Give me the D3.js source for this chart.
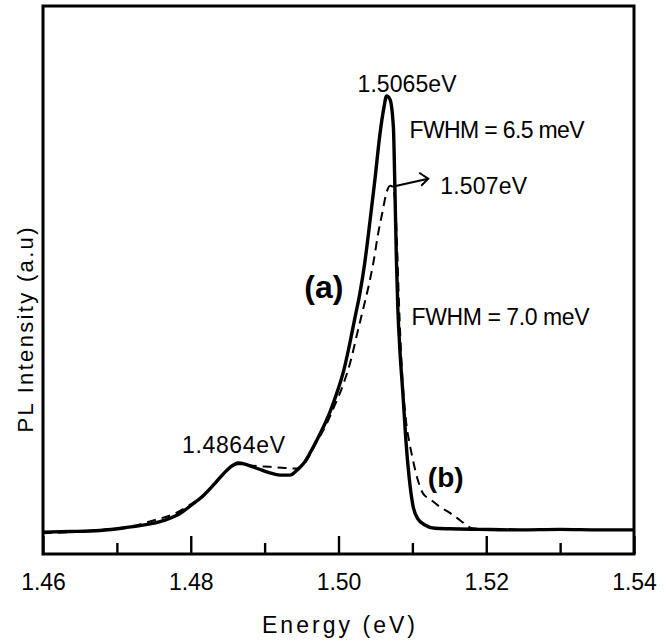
<!DOCTYPE html>
<html>
<head>
<meta charset="utf-8">
<script src="https://cdn.jsdelivr.net/npm/d3@7"></script>
<style>
  html, body { margin: 0; padding: 0; background: #fff; }
  svg { display: block; }
  text { font-family: "Liberation Sans", Arial, sans-serif; fill: #000; }
</style>
</head>
<body>
<svg id="chart" width="669" height="643"></svg>
<script>
// PL spectrum, curve (a): photon energy (eV) and intensity (a.u.)
const energyA = [1.46000, 1.46365, 1.46771, 1.47110, 1.47448, 1.47651, 1.47854, 1.48016, 1.48165,
  1.48328, 1.48490, 1.48571, 1.48640, 1.48733, 1.48842, 1.48963, 1.49072, 1.49207, 1.49342,
  1.49437, 1.49532, 1.49613, 1.49708, 1.49789, 1.49884, 1.49978, 1.50073, 1.50154, 1.50222,
  1.50290, 1.50357, 1.50425, 1.50492, 1.50560, 1.50614, 1.50650, 1.50696, 1.50743, 1.50764,
  1.50784, 1.50804, 1.50831, 1.50871, 1.50912, 1.50953, 1.51007, 1.51074, 1.51169, 1.51304,
  1.51507, 1.51913, 1.52455, 1.52996, 1.53537, 1.54000];
const intensityA = [4.0, 4.1, 4.3, 4.8, 5.5, 6.2, 7.4, 9.0, 10.6,
  12.9, 15.3, 16.2, 16.6, 16.4, 15.9, 15.3, 14.8, 14.4, 14.4,
  15.3, 16.6, 18.4, 20.8, 23.0, 25.9, 29.4, 33.6, 38.5, 43.1,
  47.6, 53.3, 60.6, 68.2, 76.5, 81.4, 83.6, 83.0, 77.9, 66.4,
  53.6, 44.5, 37.2, 29.4, 20.8, 14.4, 8.9, 6.4, 5.3, 4.7,
  4.6, 4.5, 4.4, 4.5, 4.4, 4.4];

// PL spectrum, curve (b)
const energyB = [1.46000, 1.46365, 1.46771, 1.47177, 1.47516, 1.47786, 1.48016, 1.48165, 1.48328,
  1.48490, 1.48639, 1.48842, 1.49072, 1.49275, 1.49437, 1.49545, 1.49681, 1.49830, 1.49951,
  1.50060, 1.50168, 1.50249, 1.50330, 1.50411, 1.50479, 1.50533, 1.50601, 1.50641, 1.50700,
  1.50737, 1.50764, 1.50790, 1.50817, 1.50858, 1.50912, 1.50966, 1.51007, 1.51074, 1.51142,
  1.51250, 1.51372, 1.51507, 1.51602, 1.51710, 1.51805, 1.51913];
const intensityB = [3.8, 4.0, 4.4, 5.0, 6.2, 7.4, 9.2, 10.6, 12.9,
  15.3, 16.4, 16.1, 15.9, 15.7, 15.6, 16.6, 19.9, 23.5, 27.2,
  30.8, 35.4, 40.0, 44.5, 49.1, 53.7, 58.2, 62.8, 65.5, 67.2,
  66.8, 64.6, 57.3, 46.4, 33.6, 24.5, 19.9, 17.2, 13.5, 11.1,
  9.9, 8.6, 7.5, 6.6, 5.5, 4.7, 4.6];

// Axis ticks
const majorTicks = [1.46, 1.48, 1.50, 1.52, 1.54];
const minorTicks = [1.47, 1.49, 1.51, 1.53];
const tickLabels = ["1.46", "1.48", "1.50", "1.52", "1.54"];

// Peak annotations
const peakA = 1.5065, peakB = 1.507, shoulder = 1.4864;
const fwhmA = "FWHM = 6.5 meV", fwhmB = "FWHM = 7.0 meV";

const svg = d3.select("#chart");
const plotLeft = 43, plotRight = 634, plotTop = 6, plotBottom = 554;

const x = d3.scaleLinear().domain([1.46, 1.54]).range([plotLeft, plotRight]);
const y = d3.scaleLinear().domain([0, 100]).range([plotBottom, plotTop]);

const seriesA = energyA.map((e, i) => [e, intensityA[i]]);
const seriesB = energyB.map((e, i) => [e, intensityB[i]]);

const line = d3.line()
  .x(d => x(d[0]))
  .y(d => y(d[1]))
  .curve(d3.curveMonotoneX);

// Curves
svg.append("path")
  .datum(seriesB)
  .attr("d", line)
  .attr("fill", "none")
  .attr("stroke", "#000")
  .attr("stroke-width", 2)
  .attr("stroke-dasharray", "9,6");

svg.append("path")
  .datum(seriesA)
  .attr("d", line)
  .attr("fill", "none")
  .attr("stroke", "#000")
  .attr("stroke-width", 3.4)
  .attr("stroke-linejoin", "round");

// Frame
svg.append("rect")
  .attr("x", plotLeft).attr("y", plotTop)
  .attr("width", plotRight - plotLeft).attr("height", plotBottom - plotTop)
  .attr("fill", "none")
  .attr("stroke", "#000")
  .attr("stroke-width", 3);

// Bottom axis: inward ticks
const axisMajor = d3.axisBottom(x)
  .tickValues(majorTicks)
  .tickSize(-18)
  .tickPadding(20)
  .tickFormat((d, i) => tickLabels[i]);
const gMajor = svg.append("g")
  .attr("transform", `translate(0,${plotBottom})`)
  .call(axisMajor);
gMajor.select(".domain").remove();
gMajor.selectAll(".tick line").attr("stroke", "#000").attr("stroke-width", 2.4);
gMajor.selectAll(".tick text")
  .attr("font-size", 23)
  .attr("font-family", "Liberation Sans, Arial, sans-serif")
  .attr("fill", "#000");

const axisMinor = d3.axisBottom(x)
  .tickValues(minorTicks)
  .tickSize(-11)
  .tickFormat("");
const gMinor = svg.append("g")
  .attr("transform", `translate(0,${plotBottom})`)
  .call(axisMinor);
gMinor.select(".domain").remove();
gMinor.selectAll(".tick line").attr("stroke", "#000").attr("stroke-width", 2.4);

// Axis titles
svg.append("text")
  .attr("x", (plotLeft + plotRight) / 2)
  .attr("y", 633)
  .attr("text-anchor", "middle")
  .attr("font-size", 23)
  .attr("textLength", 153)
  .attr("lengthAdjust", "spacing")
  .text("Energy (eV)");

svg.append("text")
  .attr("transform", "translate(33,330) rotate(-90)")
  .attr("text-anchor", "middle")
  .attr("font-size", 22)
  .attr("textLength", 205)
  .attr("lengthAdjust", "spacing")
  .text("PL Intensity (a.u)");

// Annotations
function label(txt, px, py, size, len, weight) {
  const t = svg.append("text")
    .attr("x", px).attr("y", py)
    .attr("font-size", size)
    .text(txt);
  if (len) t.attr("textLength", len).attr("lengthAdjust", "spacing");
  if (weight) t.attr("font-weight", weight);
  return t;
}

const peakAY = y(d3.max(intensityA));
const peakBY = y(d3.max(intensityB));

label(peakA.toFixed(4) + "eV", x(peakA) - 29, peakAY - 4, 23, 99);
label(fwhmA, x(peakA) + 23, peakAY + 42, 23, 175);
label(peakB.toFixed(3) + "eV", x(peakB) + 50, peakBY + 8, 23, 87);
label("(a)", x(1.4989) - 26, 298, 32, null, "bold");
label(fwhmB, x(peakA) + 25, 325, 23, 178);
label(shoulder.toFixed(4) + "eV", x(shoulder) - 56, y(16.6) - 10, 23, 103);
label("(b)", x(1.5102) + 14, 487, 28, null, "bold");

// Arrow from peak (b) to its label
const ax0 = x(peakB) + 2, ay0 = peakBY + 1;
const ax1 = x(peakB) + 38, ay1 = peakBY - 7;
svg.append("line")
  .attr("x1", ax0).attr("y1", ay0)
  .attr("x2", ax1).attr("y2", ay1)
  .attr("stroke", "#000").attr("stroke-width", 2);
svg.append("path")
  .attr("d", `M${ax1 - 9},${ay1 - 6} L${ax1},${ay1} L${ax1 - 7},${ay1 + 7}`)
  .attr("fill", "none")
  .attr("stroke", "#000").attr("stroke-width", 2);
</script>
</body>
</html>
